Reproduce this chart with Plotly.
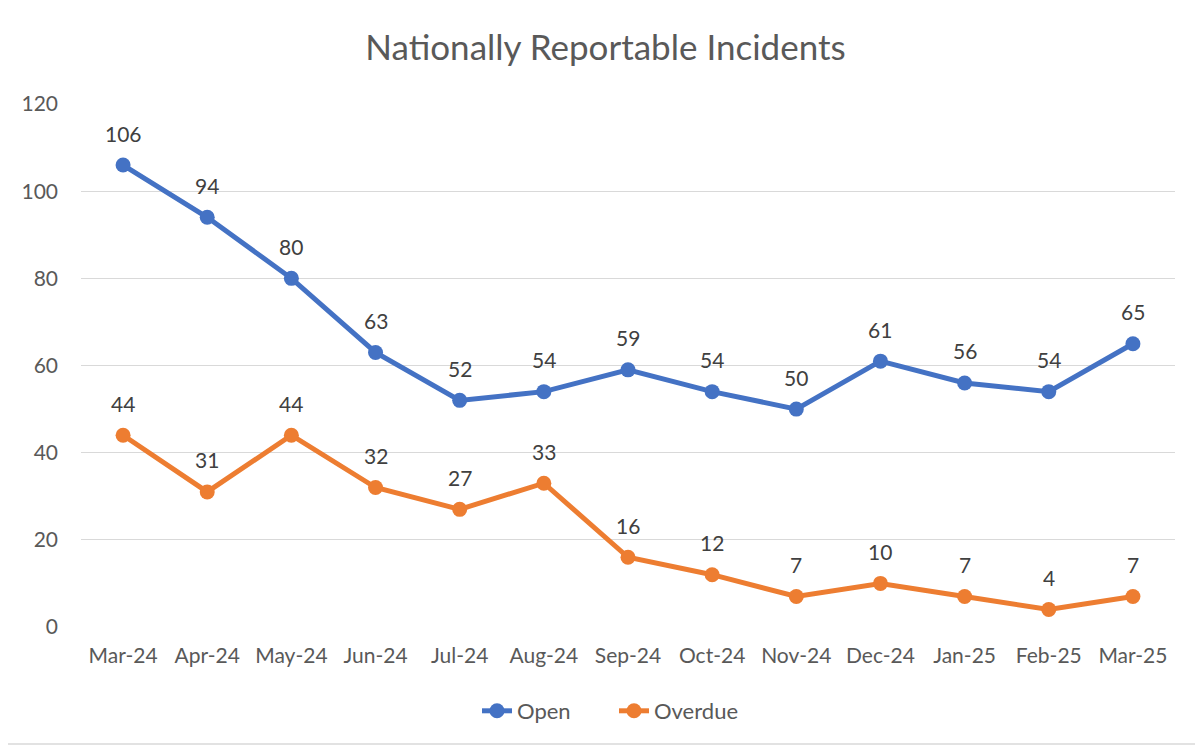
import plotly.graph_objects as go

months = ["Mar-24", "Apr-24", "May-24", "Jun-24", "Jul-24", "Aug-24", "Sep-24",
          "Oct-24", "Nov-24", "Dec-24", "Jan-25", "Feb-25", "Mar-25"]
open_vals = [106, 94, 80, 63, 52, 54, 59, 54, 50, 61, 56, 54, 65]
overdue_vals = [44, 31, 44, 32, 27, 33, 16, 12, 7, 10, 7, 4, 7]

FONT = "Lato"
TXT = "#595959"
OFF = 8  # page body margin

fig = go.Figure()
annotations = []
for name, vals, col in [("Open", open_vals, "#4472C4"), ("Overdue", overdue_vals, "#ED7D31")]:
    fig.add_trace(go.Scatter(
        x=months, y=vals, name=name, mode="lines+markers",
        line=dict(color=col, width=5),
        marker=dict(color=col, size=15),
        cliponaxis=False,
    ))
    for m, v in zip(months, vals):
        annotations.append(dict(x=m, y=v, text=str(v), showarrow=False, yshift=32,
                                font=dict(family=FONT, size=21, color="#404040")))

W, H = 1203 - OFF, 747 - OFF
L, R, T, B = 81 - OFF, 28, 104 - OFF, 120
pw, ph = W - L - R, H - T - B

fig.update_layout(
    width=W, height=H,
    margin=dict(l=L, r=R, t=T, b=B),
    paper_bgcolor="white", plot_bgcolor="white",
    title=dict(text="Nationally Reportable Incidents", x=0.5, xanchor="center",
               y=1 - (48 - OFF) / H, yanchor="middle",
               font=dict(family=FONT, size=35, color=TXT)),
    font=dict(family=FONT, color=TXT),
    showlegend=True,
    legend=dict(orientation="h", x=(614 - 81) / 1094, xanchor="center",
                y=(H - B - (711 - OFF)) / ph, yanchor="middle",
                entrywidth=92, entrywidthmode="pixels",
                font=dict(family=FONT, size=22, color=TXT)),
    xaxis=dict(showgrid=False, showline=False, ticks="", automargin=False,
               range=[-0.5, len(months) - 0.5],
               ticklabelstandoff=14,
               tickfont=dict(family=FONT, size=21, color=TXT)),
    yaxis=dict(range=[0, 120], dtick=20, showgrid=True, gridcolor="#D9D9D9", gridwidth=1.3,
               zeroline=False, showline=False, ticks="", ticklabelstandoff=22, automargin=False,
               tickfont=dict(family=FONT, size=21, color=TXT)),
    annotations=annotations,
    shapes=[dict(type="rect", xref="paper", yref="paper",
                 x0=(5 - OFF - L) / pw, x1=(1200 - OFF - L) / pw,
                 y0=(H - B - (744 - OFF)) / ph, y1=(H - B - (6 - OFF)) / ph,
                 line=dict(color="#D9D9D9", width=1.5), layer="below")],
)
fig.write_html("out.html")
